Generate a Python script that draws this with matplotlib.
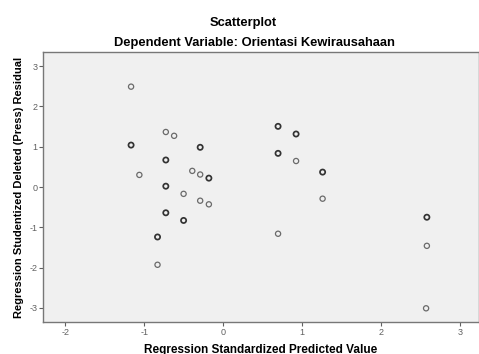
import matplotlib
matplotlib.use("Agg")
import matplotlib.pyplot as plt

# Data (count = overlapping cases shown bolder)
pred = [-1.165, -1.165, -1.06, -0.725, -0.62, -0.725, -0.725, -0.725, -0.83, -0.83,
        -0.50, -0.50, -0.39, -0.29, -0.29, -0.18, -0.29, -0.18,
        0.696, 0.924, 0.696, 0.924, 1.26, 1.26, 2.58, 2.58, 0.696, 2.57]
resid = [2.49, 1.04, 0.30, 1.365, 1.27, 0.67, 0.02, -0.64, -1.24, -1.93,
         -0.17, -0.83, 0.40, 0.985, 0.31, 0.22, -0.34, -0.43,
         1.505, 1.315, 0.835, 0.645, 0.37, -0.29, -0.75, -1.46, -1.16, -3.01]
count = [1, 2, 1, 1, 1, 2, 2, 2, 2, 1,
         1, 2, 1, 2, 1, 2, 1, 1,
         2, 2, 2, 1, 2, 1, 2, 1, 1, 1]
xticks = [-2, -1, 0, 1, 2, 3]
yticks = [-3, -2, -1, 0, 1, 2, 3]

plt.rcParams['font.family'] = ['Liberation Sans', 'DejaVu Sans']
fig = plt.figure(figsize=(4.79, 3.54), dpi=100)
ax = fig.add_axes([43/479, 32/354, 1 - 43/479, (322-52)/354])
ax.set_facecolor('#f0f0f0')

for x, y, c in zip(pred, resid, count):
    ax.scatter([x], [y], s=14, facecolors='none',
               edgecolors='#333333' if c > 1 else '#6a6a6a',
               linewidths=1.25 if c > 1 else 0.9, zorder=3)

ax.set_xlim(-2.28, 3.24)
ax.set_ylim(-3.35, 3.35)
ax.set_xticks(xticks)
ax.set_yticks(yticks)
ax.set_xticklabels([str(t) for t in xticks])
ax.set_yticklabels([str(t) for t in yticks])
ax.tick_params(axis='both', labelsize=6.5, colors='#606060', length=3, width=0.8,
               pad=1)
for sp in ax.spines.values():
    sp.set_color('#777777')
    sp.set_linewidth(1.0)

ax.set_xlabel('Regression Standardized Predicted Value', fontsize=8.5,
              fontweight='bold', labelpad=5)
ax.set_ylabel('Regression Studentized Deleted (Press) Residual', fontsize=8,
              fontweight='bold', labelpad=4)
fig.text(243/479, 1 - 22.7/354, 'Scatterplot', ha='center', va='center',
         fontsize=9.3, fontweight='bold')
fig.text(254/479, 1 - 43/354, 'Dependent Variable: Orientasi Kewirausahaan',
         ha='center', va='center', fontsize=9.3, fontweight='bold')

fig.savefig('out.png', dpi=100, facecolor='white')
